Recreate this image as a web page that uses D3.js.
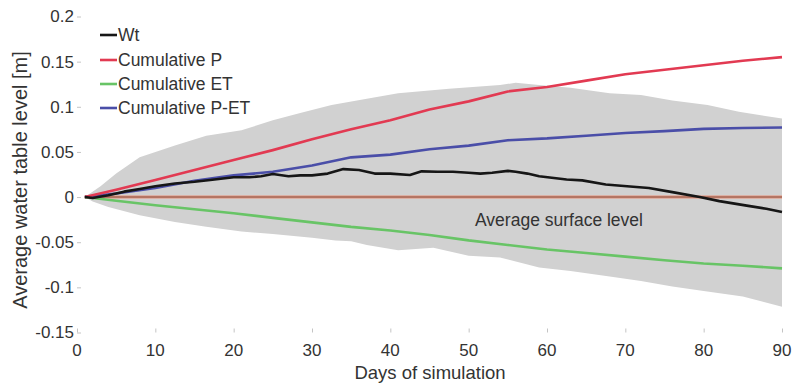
<!DOCTYPE html>
<html>
<head>
<meta charset="utf-8">
<script src="https://cdn.jsdelivr.net/npm/d3@7"></script>
<style>
  body { margin: 0; background: #fff; }
  svg text { font-family: "Liberation Sans", Arial, sans-serif; fill: #333; }
</style>
</head>
<body>
<script>
//chart data
var xTicks = [0, 10, 20, 30, 40, 50, 60, 70, 80, 90];
var yTicks = [-0.15, -0.1, -0.05, 0, 0.05, 0.1, 0.15, 0.2];
var yTickLabels = ["-0.15", "-0.1", "-0.05", "0", "0.05", "0.1", "0.15", "0.2"];

//smooth cumulative series, every 5 days
var days = [1, 5, 10, 15, 20, 25, 30, 35, 40, 45, 50, 55, 60, 65, 70, 75, 80, 85, 90];
var cumP = [0, 0.008, 0.019, 0.030, 0.041, 0.052, 0.064, 0.075, 0.085, 0.097, 0.106, 0.117, 0.122, 0.129, 0.136, 0.141, 0.146, 0.151, 0.155];
var cumET = [0, -0.004, -0.009, -0.0135, -0.018, -0.023, -0.028, -0.033, -0.037, -0.042, -0.048, -0.053, -0.058, -0.062, -0.066, -0.070, -0.0735, -0.076, -0.079];
var cumPET = [0, 0.004, 0.010, 0.018, 0.024, 0.028, 0.035, 0.044, 0.047, 0.053, 0.057, 0.063, 0.065, 0.068, 0.071, 0.073, 0.0755, 0.0765, 0.077];

//water table (wiggly)
var wtDays = [1, 2, 4, 6, 8, 10, 12.5, 15, 17, 20, 22, 23.5, 25, 27, 28.5, 30, 32, 34, 36, 38, 40, 42.5, 44, 46, 48, 50, 51.5, 53, 55, 56, 57.5, 59, 62.5, 64.5, 67.5, 71, 73, 76, 79.5, 82, 85.5, 88, 90];
var wt = [0, -0.001, 0.002, 0.006, 0.009, 0.012, 0.015, 0.017, 0.019, 0.022, 0.022, 0.023, 0.0255, 0.023, 0.024, 0.024, 0.026, 0.031, 0.030, 0.026, 0.026, 0.0245, 0.0285, 0.028, 0.028, 0.027, 0.026, 0.027, 0.029, 0.028, 0.026, 0.023, 0.0195, 0.0185, 0.014, 0.0115, 0.010, 0.0055, 0, -0.0045, -0.0095, -0.013, -0.0165];

//grey envelope
var upDays = [1, 3, 5, 8, 12.5, 16.5, 21, 25, 28.5, 32.5, 37, 41, 47.5, 54, 56, 59, 63, 68, 72, 76, 80.5, 84.5, 90];
var upper = [0, 0.012, 0.026, 0.044, 0.057, 0.068, 0.074, 0.085, 0.093, 0.102, 0.109, 0.115, 0.120, 0.124, 0.1266, 0.124, 0.121, 0.115, 0.113, 0.107, 0.102, 0.0945, 0.087];
var lowDays = [1, 2, 4, 8, 12.5, 16.5, 21, 25, 30, 33, 35, 37, 41, 45.5, 50, 54, 59, 63, 68, 72, 76, 80, 85, 90];
var lower = [0, -0.005, -0.011, -0.020, -0.0277, -0.033, -0.038, -0.041, -0.045, -0.048, -0.049, -0.053, -0.059, -0.056, -0.065, -0.067, -0.078, -0.082, -0.088, -0.093, -0.099, -0.104, -0.110, -0.1215];

var seriesNames = ["Wt", "Cumulative P", "Cumulative ET", "Cumulative P-ET"];
var seriesColors = ["#161616", "#e23a52", "#68c466", "#4a4ea8"];

window.onload = drawChart();

function drawChart(){
    var width = 796, height = 383;

    var svg = d3.select("body")
        .append("svg")
        .attr("width", width)
        .attr("height", height);

    var x = d3.scaleLinear().domain([0, 90]).range([77, 782]);
    var y = d3.scaleLinear().domain([-0.15, 0.2]).range([332.5, 16.5]);

    function pairs(xs, ys){
        return xs.map(function(d, i){ return [d, ys[i]]; });
    }

    var line = d3.line()
        .x(function(d){ return x(d[0]); })
        .y(function(d){ return y(d[1]); });

    //envelope: upper edge forward then lower edge back
    var band = pairs(upDays, upper).concat(pairs(lowDays, lower).reverse());
    svg.append("path")
        .attr("class", "band")
        .attr("d", line(band) + "Z")
        .style("fill", "#d1d1d1")
        .style("stroke", "none");

    //average surface level
    var zero = [[1, 0], [90, 0]];
    svg.append("path")
        .attr("d", line(zero))
        .style("fill", "none")
        .style("stroke", "#dcb0a4")
        .style("stroke-width", 4);
    svg.append("path")
        .attr("d", line(zero))
        .style("fill", "none")
        .style("stroke", "#a8624e")
        .style("stroke-width", 1.6);

    svg.append("text")
        .attr("x", 475)
        .attr("y", 220)
        .attr("dy", "0.35em")
        .style("font-size", "17.5px")
        .text("Average surface level");

    //series lines
    var series = [
        pairs(days, cumET),
        pairs(days, cumPET),
        pairs(days, cumP),
        pairs(wtDays, wt)
    ];
    var colorsDrawn = [seriesColors[2], seriesColors[3], seriesColors[1], seriesColors[0]];
    svg.selectAll(".series")
        .data(series)
        .enter()
        .append("path")
        .attr("class", "series")
        .attr("d", line)
        .style("fill", "none")
        .style("stroke", function(d, i){ return colorsDrawn[i]; })
        .style("stroke-width", 2.6)
        .style("stroke-linejoin", "round");

    //axes (MATLAB style, inward ticks, no axis line)
    var xAxis = svg.append("g")
        .attr("transform", "translate(0," + y(-0.15) + ")")
        .call(d3.axisTop(x).tickValues(xTicks).tickSize(4).tickFormat(""));
    var yAxis = svg.append("g")
        .attr("transform", "translate(" + x(0) + ",0)")
        .call(d3.axisRight(y).tickValues(yTicks).tickSize(4).tickFormat(""));
    svg.selectAll(".domain").remove();
    svg.selectAll(".tick line").style("stroke", "#c4c4c4");

    svg.selectAll(".xlab")
        .data(xTicks)
        .enter()
        .append("text")
        .attr("x", function(d){ return x(d); })
        .attr("y", 350)
        .attr("dy", "0.35em")
        .attr("text-anchor", "middle")
        .style("font-size", "17px")
        .text(function(d){ return d; });

    svg.selectAll(".ylab")
        .data(yTicks)
        .enter()
        .append("text")
        .attr("x", 74)
        .attr("y", function(d){ return y(d); })
        .attr("dy", "0.35em")
        .attr("text-anchor", "end")
        .style("font-size", "17px")
        .text(function(d, i){ return yTickLabels[i]; });

    svg.append("text")
        .attr("x", 430)
        .attr("y", 373)
        .attr("dy", "0.35em")
        .attr("text-anchor", "middle")
        .style("font-size", "18.5px")
        .text("Days of simulation");

    svg.append("text")
        .attr("transform", "translate(20,180) rotate(-90)")
        .attr("dy", "0.35em")
        .attr("text-anchor", "middle")
        .style("font-size", "20px")
        .text("Average water table level [m]");

    //legend
    var legendY = [35, 60, 84, 108];
    var legend = svg.selectAll(".legend")
        .data(seriesNames)
        .enter()
        .append("g")
        .attr("class", "legend")
        .attr("transform", function(d, i){ return "translate(100," + legendY[i] + ")"; });
    legend.append("line")
        .attr("x1", 0).attr("x2", 17)
        .style("stroke", function(d, i){ return seriesColors[i]; })
        .style("stroke-width", 2.6);
    legend.append("text")
        .attr("x", 18)
        .attr("dy", "0.35em")
        .style("font-size", "17.5px")
        .text(function(d){ return d; });
}
</script>
</body>
</html>
